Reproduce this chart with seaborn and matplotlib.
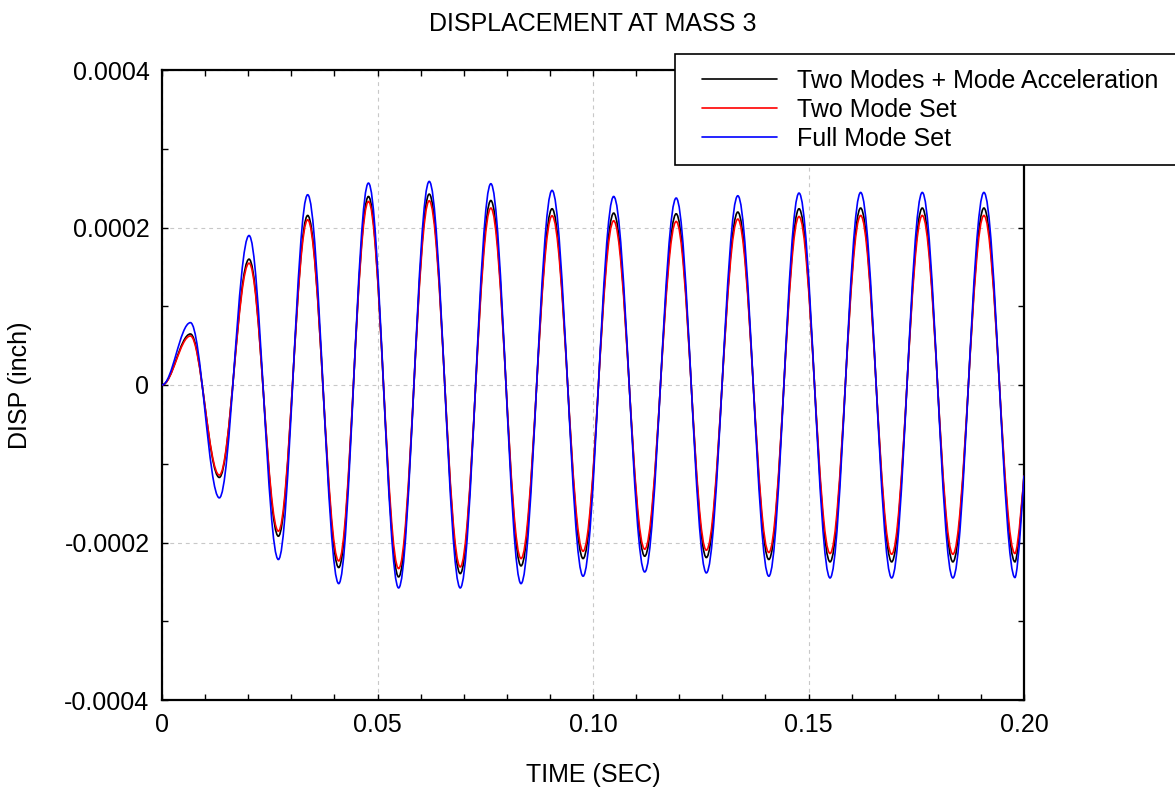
import numpy as np
import pandas as pd
import matplotlib
matplotlib.use("Agg")
import matplotlib.pyplot as plt
from matplotlib.path import Path
from matplotlib.patches import PathPatch, Rectangle
from matplotlib.lines import Line2D
from matplotlib.ticker import MultipleLocator
import seaborn as sns

# ---------------------------------------------------------------
# Data: times of the extrema (sec) and the
# displacement at each extremum (units of 1e-4 inch). The first
# entry is the start of the record, the last one the end at 0.20 s.
# ---------------------------------------------------------------
extrema_time = [0.0, 0.0066, 0.0133, 0.0202, 0.0270, 0.0338, 0.0410,
                0.0479, 0.0549, 0.0620, 0.0692, 0.0763, 0.0833, 0.0905,
                0.0977, 0.1048, 0.1120, 0.1193, 0.1263, 0.1336, 0.1408,
                0.1478, 0.1550, 0.1621, 0.1693, 0.1764, 0.1835, 0.1907,
                0.1979, 0.2000]

two_modes_accel = [0.0, 0.648, -1.174, 1.598, -1.920, 2.153, -2.318,
                   2.394, -2.437, 2.424, -2.395, 2.343, -2.297, 2.238,
                   -2.204, 2.183, -2.174, 2.174, -2.191, 2.196, -2.216,
                   2.238, -2.246, 2.247, -2.246, 2.247, -2.246, 2.247,
                   -2.246, -1.15]

two_mode_set = [0.0, 0.623, -1.144, 1.547, -1.856, 2.098, -2.234,
                2.331, -2.331, 2.339, -2.310, 2.247, -2.204, 2.149,
                -2.111, 2.085, -2.085, 2.077, -2.098, 2.107, -2.127,
                2.140, -2.140, 2.153, -2.149, 2.153, -2.149, 2.153,
                -2.140, -1.15]

full_mode_set = [0.0, 0.792, -1.433, 1.898, -2.216, 2.416, -2.522,
                 2.564, -2.577, 2.585, -2.577, 2.556, -2.522, 2.471,
                 -2.428, 2.394, -2.374, 2.374, -2.386, 2.403, -2.428,
                 2.437, -2.450, 2.445, -2.450, 2.445, -2.450, 2.445,
                 -2.445, -1.15]

series_names = ["Two Modes + Mode Acceleration", "Two Mode Set", "Full Mode Set"]
series_colors = ["#000000", "#ff0000", "#0000ff"]

x_ticks = [0.0, 0.05, 0.10, 0.15, 0.20]
x_tick_labels = ["0", "0.05", "0.10", "0.15", "0.20"]
y_ticks = [-0.0004, -0.0002, 0.0, 0.0002, 0.0004]
y_tick_labels = ["-0.0004", "-0.0002", "0", "0.0002", "0.0004"]

# long-form table of the read values
df = pd.DataFrame({
    "time": extrema_time * 3,
    "disp": np.concatenate([two_modes_accel, two_mode_set, full_mode_set]) * 1e-4,
    "series": np.repeat(series_names, len(extrema_time)),
})


def smooth_path(t, v):
    """Path through the extrema with flat tangents at every peak/trough
    (cubic Bezier segments), so the trace keeps its sine shape."""
    k = 0.363
    verts = [(t[0], v[0])]
    codes = [Path.MOVETO]
    n = len(t)
    for i in range(n - 1):
        dt = t[i + 1] - t[i]
        c1 = (t[i] + k * dt, v[i])
        if i == n - 2:
            # last piece ends mid-swing at the axis limit
            c2 = (t[i + 1], v[i + 1])
        else:
            c2 = (t[i + 1] - k * dt, v[i + 1])
        verts += [c1, c2, (t[i + 1], v[i + 1])]
        codes += [Path.CURVE4] * 3
    return Path(verts, codes)


sns.set_theme(style="ticks", rc={"text.color": "black", "axes.labelcolor": "black",
                                 "xtick.color": "black", "ytick.color": "black"})
plt.rcParams["font.family"] = ["Liberation Sans", "DejaVu Sans"]
plt.rcParams["axes.unicode_minus"] = False
palette = sns.color_palette(series_colors)

FS = 18

fig = plt.figure(figsize=(11.75, 7.9), dpi=100)
ax = fig.add_axes([162 / 1175, 90 / 790, 862 / 1175, 630 / 790])
ax.set_facecolor("white")

for name, color in zip(series_names, palette):
    sub = df[df["series"] == name]
    patch = PathPatch(smooth_path(sub["time"].to_numpy(), sub["disp"].to_numpy()),
                      facecolor="none", edgecolor=color, lw=1.2, zorder=3)
    ax.add_patch(patch)

ax.set_xlim(0, 0.20)
ax.set_ylim(-0.0004, 0.0004)
ax.set_xticks(x_ticks)
ax.set_xticklabels(x_tick_labels)
ax.set_yticks(y_ticks)
ax.set_yticklabels(y_tick_labels)
ax.xaxis.set_minor_locator(MultipleLocator(0.01))
ax.yaxis.set_minor_locator(MultipleLocator(0.0001))

ax.tick_params(which="both", direction="in", top=True, right=True,
               length=4, width=1, color="black", labelsize=FS, pad=9)
for sp in ax.spines.values():
    sp.set_visible(True)
    sp.set_linewidth(1.6)
    sp.set_color("black")

ax.grid(which="major", linestyle=(0, (3.5, 3.5)), color="#c8c8c8", linewidth=0.8)

ax.set_title("DISPLACEMENT AT MASS 3", fontsize=FS, y=1 + 46 / 630, va="center", pad=0)
ax.set_xlabel("TIME (SEC)", fontsize=FS)
ax.set_ylabel("DISP (inch)", fontsize=FS)
ax.xaxis.set_label_coords(0.5, (700 - 775) / 630)
ax.xaxis.label.set_va("center")
ax.yaxis.set_label_coords((20 - 162) / 862, 0.5)
ax.yaxis.label.set_va("center")

# legend box (square frame running off the right edge of the figure)
box = Rectangle((675 / 1175, 1 - 165 / 790), 520 / 1175, 111 / 790,
                transform=fig.transFigure, facecolor="white", edgecolor="black",
                linewidth=1.2, zorder=4, clip_on=False)
fig.add_artist(box)

handles = [Line2D([0], [0], color=c, lw=1.2) for c in palette]
leg = ax.legend(handles, series_names, loc="upper left",
                bbox_to_anchor=(702 / 1175, 1 - 69 / 790),
                bbox_transform=fig.transFigure, frameon=False,
                fontsize=FS, borderaxespad=0, borderpad=0, handlelength=3.0,
                handletextpad=0.8, labelspacing=0.2)
leg.set_zorder(5)
fig.add_artist(leg)

fig.savefig("out.png", dpi=100, facecolor="white")
